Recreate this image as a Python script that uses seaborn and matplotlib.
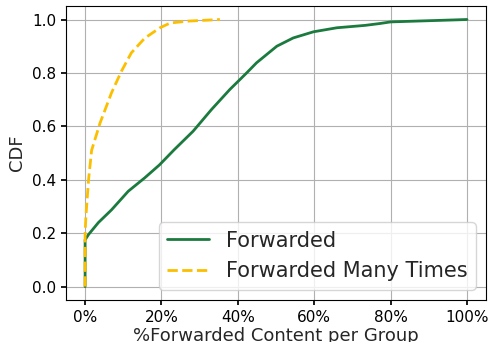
import matplotlib
matplotlib.use("Agg")
import matplotlib.pyplot as plt
import seaborn as sns
import pandas as pd
from matplotlib.ticker import PercentFormatter

# CDF of the share of forwarded content per group (x in percent)
fwd_pct = [0, 0, 0.9, 3.5, 6.9, 11.3, 15.6, 19.5, 23.3, 28.3, 33.1, 37.9, 40.6,
           42.3, 44.9, 50.2, 54.5, 59.8, 65.9, 73.3, 77.2, 80.0, 100.0]
fwd_cdf = [0, 0.175, 0.195, 0.24, 0.287, 0.357, 0.407, 0.456, 0.512, 0.582, 0.663,
           0.738, 0.776, 0.80, 0.838, 0.90, 0.931, 0.954, 0.969, 0.978, 0.985, 0.991, 1.0]

many_pct = [0, 0, 0.2, 0.9, 1.7, 3.9, 6.9, 9.5, 12.1, 15.6, 19.6, 22.3, 27.0, 35.3]
many_cdf = [0, 0.2, 0.26, 0.40, 0.51, 0.612, 0.725, 0.806, 0.875, 0.93, 0.969,
            0.987, 0.994, 1.0]

series_labels = ["Forwarded", "Forwarded Many Times"]
x_ticks = [0, 20, 40, 60, 80, 100]
y_ticks = [0.0, 0.2, 0.4, 0.6, 0.8, 1.0]

sns.set_theme(style="whitegrid", rc={
    "axes.edgecolor": "black",
    "axes.linewidth": 0.8,
    "grid.color": "#b0b0b0",
    "grid.linewidth": 0.8,
    "xtick.bottom": True,
    "ytick.left": True,
    "xtick.major.size": 3.5,
    "ytick.major.size": 3.5,
    "xtick.color": "black",
    "ytick.color": "black",
})
plt.rcParams["font.family"] = ["DejaVu Sans"]

fig, ax = plt.subplots(figsize=(4.89, 3.42), dpi=100)
fig.subplots_adjust(left=0.135, right=0.994, top=0.982, bottom=0.123)

df_fwd = pd.DataFrame({"x": fwd_pct, "y": fwd_cdf})
df_many = pd.DataFrame({"x": many_pct, "y": many_cdf})

sns.lineplot(data=df_fwd, x="x", y="y", sort=False, estimator=None, ax=ax,
             color="#1b7a3e", linewidth=2, label=series_labels[0])
sns.lineplot(data=df_many, x="x", y="y", sort=False, estimator=None, ax=ax,
             color="#fcbf00", linewidth=2, linestyle="--", label=series_labels[1])

ax.set_xlim(-5, 105)
ax.set_ylim(-0.05, 1.05)
ax.set_xticks(x_ticks)
ax.set_yticks(y_ticks)
ax.xaxis.set_major_formatter(PercentFormatter(xmax=100, decimals=0))
ax.tick_params(labelsize=11, pad=3.5)
ax.set_xlabel("%Forwarded Content per Group", fontsize=13, labelpad=2)
ax.set_ylabel("CDF", fontsize=13)

leg = ax.legend(loc="lower right", fontsize=15, frameon=True, fancybox=True,
                framealpha=0.8, edgecolor="#cccccc", handlelength=2.0)

fig.savefig("out.png", dpi=100)
